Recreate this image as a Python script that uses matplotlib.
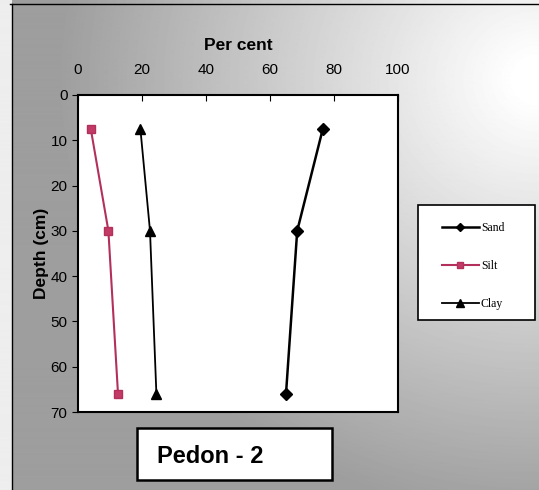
import matplotlib.pyplot as plt
import numpy as np
from matplotlib.patches import Rectangle

# data read from the scanned profile
depth = [7.5, 30, 66]
sand = [76.5, 68.5, 65]
silt = [4, 9.5, 12.5]
clay = [19.5, 22.5, 24.5]
series_names = ['Sand', 'Silt', 'Clay']
x_ticks = [0, 20, 40, 60, 80, 100]
y_ticks = [0, 10, 20, 30, 40, 50, 60, 70]

W, H = 539, 490
fig = plt.figure(figsize=(W / 100, H / 100), dpi=100)

# grey scan background, light towards upper right
bg = fig.add_axes([0, 0, 1, 1], zorder=-10)
yy, xx = np.mgrid[0:H, 0:W]
d = np.hypot((xx - W) / W, (yy - 80) / H)
shade = np.clip(1.02 - 0.45 * d, 0.62, 1.0)
shade[:, :12] = 0.93
bg.imshow(shade, cmap='gray', vmin=0, vmax=1, aspect='auto',
          extent=[0, W, H, 0])
bg.set_xlim(0, W)
bg.set_ylim(H, 0)
bg.axis('off')
bg.plot([12, 12], [4, H], color='black', lw=1)
bg.plot([10, W], [4, 4], color='black', lw=1)

# title box at the bottom
bg.add_patch(Rectangle((137, 428), 195, 52, facecolor='white',
                       edgecolor='black', lw=1.8))
bg.text(157, 456, 'Pedon - 2', fontsize=17, fontweight='bold',
        family='Liberation Sans', va='center', ha='left')

# legend frame
bg.add_patch(Rectangle((418, 205), 117, 115, facecolor='white',
                       edgecolor='black', lw=1.2))

ax = fig.add_axes([78 / W, 1 - 412 / H, 320 / W, 317 / H])
ax.set_facecolor('white')

l1, = ax.plot(sand, depth, color='black', lw=1.8, marker='D', ms=6,
              label=series_names[0])
l2, = ax.plot(silt, depth, color='#b3305c', lw=1.5, marker='s', ms=6,
              mfc='#c23a66', mec='#b3305c', label=series_names[1])
l3, = ax.plot(clay, depth, color='black', lw=1.3, marker='^', ms=7,
              label=series_names[2])

ax.set_xlim(0, 100)
ax.set_ylim(70, 0)
ax.set_xticks(x_ticks)
ax.set_yticks(y_ticks)
ax.xaxis.tick_top()
ax.xaxis.set_label_position('top')
ax.tick_params(axis='x', direction='in', length=4, labelsize=11, pad=13)
ax.tick_params(axis='y', direction='out', length=4, labelsize=11)
for lab in ax.get_xticklabels() + ax.get_yticklabels():
    lab.set_family('Liberation Sans')
for sp in ax.spines.values():
    sp.set_linewidth(1.5)

ax.set_xlabel('Per cent', fontsize=12.5, fontweight='bold',
              family='Liberation Sans', labelpad=9)
ax.set_ylabel('Depth (cm)', fontsize=12.5, fontweight='bold',
              family='Liberation Sans', labelpad=1)

leg = fig.legend(handles=[l1, l2, l3], loc='center left',
                 bbox_to_anchor=(442 / W, 1 - 266 / H),
                 prop={'family': 'Liberation Serif', 'size': 8.5},
                 frameon=False, labelspacing=2.2, handlelength=3.1,
                 handletextpad=0.2, borderpad=0, borderaxespad=0,
                 markerscale=0.75)

fig.savefig('out.png', dpi=100)
